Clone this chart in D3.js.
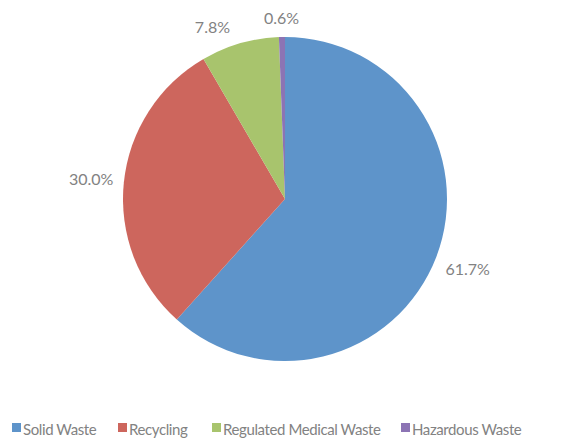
<!DOCTYPE html>
<html>
<head>
<meta charset="utf-8">
<script src="https://cdn.jsdelivr.net/npm/d3@7"></script>
<style>
  html, body { margin: 0; padding: 0; background: #fff; }
  svg { display: block; font-family: Lato, "Open Sans", sans-serif; }
</style>
</head>
<body>
<svg id="chart" width="565" height="439"></svg>
<script>
// Waste stream shares (%)
const categories = ["Solid Waste", "Recycling", "Regulated Medical Waste", "Hazardous Waste"];
const shares = [61.7, 30.0, 7.8, 0.6];
const labels = ["61.7%", "30.0%", "7.8%", "0.6%"];
const colors = ["#5E94CA", "#CD665D", "#A8C46D", "#8C74B4"];

const svg = d3.select("#chart");
const cx = 285, cy = 199, radius = 162;
const textColor = "#828282";

const pie = d3.pie().sort(null).value(d => d.value);
const arcs = pie(categories.map((c, i) => ({ name: c, value: shares[i], label: labels[i], color: colors[i] })));
const arc = d3.arc().innerRadius(0).outerRadius(radius);

const g = svg.append("g").attr("transform", `translate(${cx},${cy})`);

g.selectAll("path.slice")
  .data(arcs)
  .join("path")
  .attr("class", "slice")
  .attr("d", arc)
  .attr("fill", d => d.data.color);

// Data labels sit just outside the rim, box pushed outward along the mid-angle
const labelGap = 10, fontSize = 16;
const lbl = g.selectAll("text.lbl")
  .data(arcs)
  .join("text")
  .attr("class", "lbl")
  .attr("text-anchor", "middle")
  .attr("font-size", fontSize)
  .attr("fill", textColor)
  .text(d => d.data.label);

const boxes = [];
lbl.each(function(d) {
  const w = this.getComputedTextLength();
  const h = fontSize;
  const a = (d.startAngle + d.endAngle) / 2;
  const s = Math.sin(a), c = -Math.cos(a);
  const ext = Math.abs(s) * w / 2 + Math.abs(c) * h / 2;
  const rr = radius + labelGap + ext;
  boxes.push({ node: this, x: s * rr, y: c * rr, w });
});

// Keep neighbouring labels near the top from crowding each other:
// slide the earlier one left until there is a comfortable gap.
const minGap = 34;
for (let i = boxes.length - 1; i > 0; i--) {
  const b = boxes[i], p = boxes[i - 1];
  if (Math.abs(b.y - p.y) < fontSize * 1.5) {
    const overlap = (p.x + p.w / 2 + minGap) - (b.x - b.w / 2);
    if (overlap > 0) { p.x -= overlap; p.y += overlap * 0.25; }
  }
}
boxes.forEach(b => d3.select(b.node).attr("x", b.x).attr("y", b.y).attr("dy", "0.35em"));

// Legend along the bottom
const legendPos = [12, 118, 212, 401];
const lg = svg.append("g").attr("transform", "translate(0,423)");
const items = lg.selectAll("g.item")
  .data(categories)
  .join("g")
  .attr("class", "item")
  .attr("transform", (d, i) => `translate(${legendPos[i]},0)`);
items.append("rect")
  .attr("width", 9).attr("height", 9)
  .attr("fill", (d, i) => colors[i]);
items.append("text")
  .attr("x", 11).attr("y", 12)
  .attr("font-size", 15)
  .attr("letter-spacing", "-0.4px")
  .attr("fill", textColor)
  .text(d => d);
</script>
</body>
</html>
